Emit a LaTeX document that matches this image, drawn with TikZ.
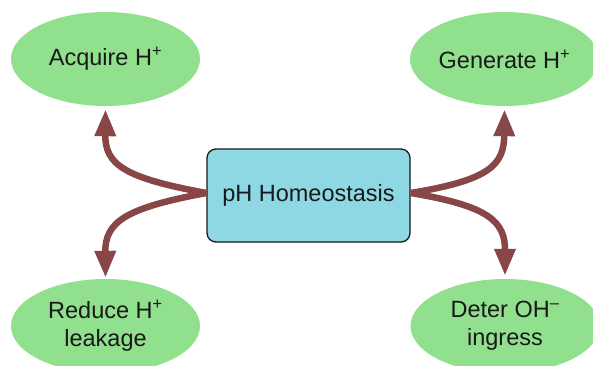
\documentclass[tikz,border=0pt]{standalone}
\usepackage{fontspec}
\setmainfont{Liberation Sans}
\usetikzlibrary{shapes.geometric,arrows.meta}
\definecolor{ellgreen}{HTML}{90E08E}
\definecolor{boxblue}{HTML}{8ED8E4}
\definecolor{arrowred}{HTML}{884646}
\begin{document}
\begin{tikzpicture}[x=1pt,y=-1pt,
  goal/.style={ellipse,fill=ellgreen,draw=none,minimum width=189pt,minimum height=94pt,inner sep=0pt,font=\fontsize{23.5}{28}\selectfont,align=center,text=black!90},
  hub/.style={rectangle,rounded corners=9pt,fill=boxblue,draw=black!90,line width=1.3pt,minimum width=203pt,minimum height=93pt,inner sep=0pt,font=\fontsize{23.5}{28}\selectfont,text=black!90},
  conn/.style={draw=arrowred,line width=6.5pt,-{Triangle[length=27pt,width=20pt]}}]
\useasboundingbox (0,0) rectangle (593,365);
\node[goal] (acq) at (105.5,59) {Acquire H\textsuperscript{+}};
\node[goal] (gen) at (504.5,59) {Generate H\textsuperscript{+}};
\node[goal] (red) at (105.5,326) {Reduce H\textsuperscript{+}\\leakage};
\node[goal] (det) at (505,326) {Deter OH\textsuperscript{–}\\ingress};
\node[hub] (box) at (308.5,195.5) {pH Homeostasis};
\coordinate (jl) at ([yshift=2.5pt]box.west);
\coordinate (jr) at ([yshift=2.5pt]box.east);
\draw[conn] (jl) .. controls (125,178) and (105,165) .. ([yshift=-3pt]acq.south);
\draw[conn] (jl) .. controls (125,208) and (105,222) .. ([yshift=1pt]red.north);
\draw[conn] (jr) .. controls (490,180) and (504,165) .. ([yshift=-3pt]gen.south);
\draw[conn] (jr) .. controls (490,206) and (505,222) .. ([yshift=3pt]det.north);
\end{tikzpicture}
\end{document}
